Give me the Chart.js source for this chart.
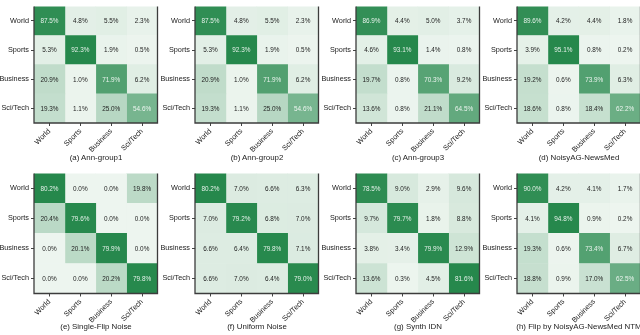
<!DOCTYPE html>
<html lang="en">
<head>
<meta charset="utf-8">
<title>Confusion matrices</title>
<script src="https://cdn.jsdelivr.net/npm/chart.js@4/dist/chart.umd.min.js"></script>
<style>
    body { margin: 0; width: 640px; height: 335px; background: #fff; position: relative; overflow: hidden; font-family: "Liberation Sans", Arial, sans-serif; }
    .painel { position: absolute; width: 161px; height: 168px; }
    .legenda { position: absolute; width: 180px; text-align: center; font-size: 7.9px; line-height: 8px; color: #222; white-space: nowrap; }
</style>
</head>
<body>
<script>
// =========================================
// DADOS
// =========================================
const rotulos = ["World", "Sports", "Business", "Sci/Tech"];

const annGroup1 = [
    [87.5, 4.8, 5.5, 2.3],
    [5.3, 92.3, 1.9, 0.5],
    [20.9, 1.0, 71.9, 6.2],
    [19.3, 1.1, 25.0, 54.6]
];
const annGroup2 = [
    [87.5, 4.8, 5.5, 2.3],
    [5.3, 92.3, 1.9, 0.5],
    [20.9, 1.0, 71.9, 6.2],
    [19.3, 1.1, 25.0, 54.6]
];
const annGroup3 = [
    [86.9, 4.4, 5.0, 3.7],
    [4.6, 93.1, 1.4, 0.8],
    [19.7, 0.8, 70.3, 9.2],
    [13.6, 0.8, 21.1, 64.5]
];
const noisyNewsMed = [
    [89.6, 4.2, 4.4, 1.8],
    [3.9, 95.1, 0.8, 0.2],
    [19.2, 0.6, 73.9, 6.3],
    [18.6, 0.8, 18.4, 62.2]
];
const singleFlip = [
    [80.2, 0.0, 0.0, 19.8],
    [20.4, 79.6, 0.0, 0.0],
    [0.0, 20.1, 79.9, 0.0],
    [0.0, 0.0, 20.2, 79.8]
];
const uniformNoise = [
    [80.2, 7.0, 6.6, 6.3],
    [7.0, 79.2, 6.8, 7.0],
    [6.6, 6.4, 79.8, 7.1],
    [6.6, 7.0, 6.4, 79.0]
];
const synthIdn = [
    [78.5, 9.0, 2.9, 9.6],
    [9.7, 79.7, 1.8, 8.8],
    [3.8, 3.4, 79.9, 12.9],
    [13.6, 0.3, 4.5, 81.6]
];
const flipNtm = [
    [90.0, 4.2, 4.1, 1.7],
    [4.1, 94.8, 0.9, 0.2],
    [19.3, 0.6, 73.4, 6.7],
    [18.8, 0.9, 17.0, 62.5]
];

const matrizes = [annGroup1, annGroup2, annGroup3, noisyNewsMed, singleFlip, uniformNoise, synthIdn, flipNtm];
const legendas = [
    "(a) Ann-group1", "(b) Ann-group2", "(c) Ann-group3", "(d) NoisyAG-NewsMed",
    "(e) Single-Flip Noise", "(f) Uniform Noise", "(g) Synth IDN", "(h) Flip by NoisyAG-NewsMed NTM"
];

// =========================================
// CORES (escala verde, normalizada pelo máximo da matriz)
// =========================================
function corVerde(t) {
    const claro = [237, 245, 239];
    const escuro = [38, 136, 76];
    const c = claro.map((v, i) => Math.round(v + (escuro[i] - v) * t));
    return `rgb(${c[0]},${c[1]},${c[2]})`;
}

const FONTE = "'Liberation Sans', Arial, sans-serif";

// Escreve o valor no centro de cada célula
const pluginTextoCelulas = {
    id: "textoCelulas",
    afterDatasetsDraw(chart) {
        const ctx = chart.ctx;
        ctx.save();
        ctx.font = `6.4px ${FONTE}`;
        ctx.textAlign = "center";
        ctx.textBaseline = "middle";
        chart.data.datasets.forEach((ds, j) => {
            chart.getDatasetMeta(j).data.forEach((barra, i) => {
                const p = barra.getCenterPoint();
                ctx.fillStyle = ds.escuro[i] ? "rgba(255,255,255,0.88)" : "#1e1e1e";
                ctx.fillText(ds.valores[i].toFixed(1) + "%", p.x, p.y + 0.5);
            });
        });
        ctx.restore();
    }
};

// Moldura (esquerda, baixo, direita)
const pluginMoldura = {
    id: "moldura",
    afterDraw(chart) {
        const a = chart.chartArea;
        const ctx = chart.ctx;
        ctx.save();
        ctx.strokeStyle = "#3c3c3c";
        ctx.lineWidth = 1.3;
        ctx.beginPath();
        ctx.moveTo(a.left, a.top);
        ctx.lineTo(a.left, a.bottom);
        ctx.lineTo(a.right, a.bottom);
        ctx.lineTo(a.right, a.top);
        ctx.stroke();
        ctx.restore();
    }
};

// =========================================
// CRIA UMA MATRIZ DE CONFUSÃO
// =========================================
function criarMatriz(canvas, matriz, topo) {
    const maximo = Math.max(...matriz.flat());
    const alturaEixoX = 168 - topo - 123;

    // Cada dataset é uma coluna (classe prevista), cada barra uma célula
    const datasets = rotulos.map((coluna, j) => ({
        label: coluna,
        data: matriz.map(() => [j, j + 1]),
        valores: matriz.map(linha => linha[j]),
        escuro: matriz.map(linha => linha[j] / maximo > 0.5),
        backgroundColor: matriz.map(linha => corVerde(linha[j] / maximo)),
        borderWidth: 0,
        grouped: false,
        barPercentage: 1,
        categoryPercentage: 1
    }));

    new Chart(canvas, {
        type: "bar",
        data: { labels: rotulos, datasets },
        options: {
            indexAxis: "y",
            responsive: false,
            animation: false,
            layout: { padding: { left: 0, right: 3.5, top: topo, bottom: 0 } },
            plugins: { legend: { display: false }, tooltip: { enabled: false } },
            scales: {
                x: {
                    type: "linear",
                    min: 0,
                    max: 4,
                    afterBuildTicks: (escala) => {
                        escala.ticks = rotulos.map((_, i) => ({ value: i + 0.5 }));
                    },
                    afterFit: (escala) => { escala.height = alturaEixoX; },
                    ticks: {
                        autoSkip: false,
                        minRotation: 45,
                        maxRotation: 45,
                        padding: 1,
                        color: "#222",
                        font: { family: FONTE, size: 7.3 },
                        callback: (v) => rotulos[Math.floor(v)]
                    },
                    grid: { drawOnChartArea: false, tickLength: 3, color: "#444" },
                    border: { display: false }
                },
                y: {
                    afterFit: (escala) => { escala.width = 34; },
                    ticks: {
                        padding: 2,
                        color: "#222",
                        font: { family: FONTE, size: 7.3 }
                    },
                    grid: { offset: false, drawOnChartArea: false, tickLength: 3, color: "#444" },
                    border: { display: false }
                }
            }
        },
        plugins: [pluginTextoCelulas, pluginMoldura]
    });
}

// =========================================
// MONTA A GRADE 2 x 4
// =========================================
window.addEventListener("DOMContentLoaded", () => {
    matrizes.forEach((matriz, k) => {
        const coluna = k % 4;
        const linha = Math.floor(k / 4);
        const x = coluna * 161;
        const y = linha * 167;
        const topo = linha === 0 ? 0 : 3.5;

        const canvas = document.createElement("canvas");
        canvas.className = "painel";
        canvas.width = 161;
        canvas.height = 168;
        canvas.style.left = x + "px";
        canvas.style.top = y + "px";
        document.body.appendChild(canvas);
        criarMatriz(canvas, matriz, topo);

        // Legenda abaixo da matriz
        const legenda = document.createElement("div");
        legenda.className = "legenda";
        legenda.textContent = legendas[k];
        legenda.style.left = (x + 96 - 90) + "px";
        legenda.style.top = (linha === 0 ? 154 : 323) + "px";
        document.body.appendChild(legenda);
    });
});
</script>
</body>
</html>
